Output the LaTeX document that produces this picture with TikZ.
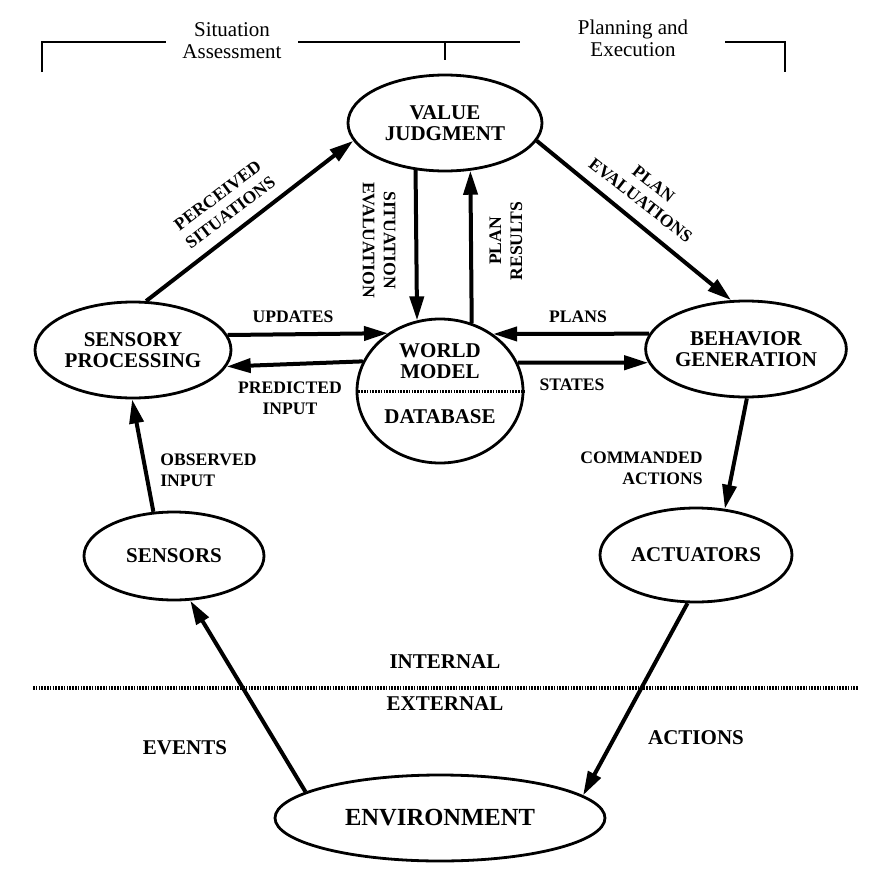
\documentclass[tikz,border=0pt]{standalone}
\usepackage{fontspec}
\setmainfont{Liberation Serif}
\usetikzlibrary{arrows.meta,shapes.geometric}

\begin{document}
\begin{tikzpicture}[x=0.5pt,y=-0.5pt,>={Triangle[length=12pt,width=7pt]},
  unit/.style={draw,ellipse,line width=1.4pt,inner sep=0pt,align=center,
    font=\fontsize{10.5}{10.5}\selectfont\bfseries},
  lbl/.style={inner sep=0pt,align=center,font=\fontsize{8.8}{10.5}\selectfont\bfseries},
  biglbl/.style={inner sep=0pt,font=\fontsize{10.5}{12}\selectfont\bfseries},
  side/.style={inner sep=0pt,align=center,font=\fontsize{10.5}{11}\selectfont},
  flow/.style={->,line width=2pt},
  hatch/.style={line width=2pt,dash pattern=on 0.8pt off 0.6pt}]
  \useasboundingbox (0,0) rectangle (889,878);

  \draw[line width=0.8pt] (42,72) -- (42,42) -- (166,42);
  \draw[line width=0.8pt] (298,42) -- (520,42);
  \draw[line width=0.8pt] (445,42) -- (445,60);
  \draw[line width=0.8pt] (725,42) -- (785,42) -- (785,72);
  \node[side] (sa) at (232,41) {Situation\\Assessment};
  \node[side] (pe) at (633,38) {Planning and\\Execution};

  \node[unit,minimum width=97pt,minimum height=48pt] (vj) at (445,123) {VALUE\\JUDGMENT};
  \node[unit,minimum width=98pt,minimum height=48pt] (sp) at (133,350) {SENSORY\\PROCESSING};
  \node[unit,minimum width=83pt,minimum height=72pt] (wm) at (440,391) {};
  \node[unit,minimum width=97pt,minimum height=48pt] (bg) at (746,349) {BEHAVIOR\\GENERATION};
  \node[unit,minimum width=90pt,minimum height=44pt] (se) at (174,556) {SENSORS};
  \node[unit,minimum width=96pt,minimum height=47pt] (ac) at (696,555) {ACTUATORS};
  \node[unit,minimum width=165pt,minimum height=43pt,
    font=\fontsize{12.3}{14}\selectfont\bfseries] (en) at (440,818) {ENVIRONMENT};

  \node[unit,draw=none] (wmname) at (440,361) {WORLD\\MODEL};
  \node[unit,draw=none] (wmdb) at (440,417) {DATABASE};
  \draw[hatch,line width=1.5pt] (wm.west) -- (wm.east);
  \draw[hatch] (33,688) -- (858,688);

  \draw[flow] (sp.75) -- (vj.191.5);
  \draw[flow] (vj.238.6) -- (wm.108.4);
  \draw[flow] (wm.65.9) -- (vj.298.3);
  \draw[flow] (vj.349.5) -- (bg.107);
  \draw[flow] (sp.9.2) -- (wm.132.9);
  \draw[flow] (wm.159.9) -- (sp.350.2);
  \draw[flow] (bg.171.4) -- (wm.47.1);
  \draw[flow] (wm.20.1) -- (bg.188.6);
  \draw[flow] (bg.271) -- (ac.58);
  \draw[flow] (se.115.5) -- (sp.269);
  \draw[flow] (en.169.5) -- (se.290);
  \draw[flow] (ac.260) -- (en.9);

  \node[lbl] (updl) at (293,317) {UPDATES};
  \node[lbl] (predl) at (290,398) {PREDICTED\\INPUT};
  \node[lbl] (plansl) at (578,317) {PLANS};
  \node[lbl] (statesl) at (572,385) {STATES};
  \node[lbl,align=right,anchor=east] (cmdl) at (703,468) {COMMANDED\\ACTIONS};
  \node[lbl,align=left,anchor=west] (obsl) at (160,470) {OBSERVED\\INPUT};
  \node[lbl,rotate=37] (percl) at (224,204) {PERCEIVED\\SITUATIONS};
  \node[lbl,rotate=-38] (planevl) at (647,192) {PLAN\\EVALUATIONS};
  \node[lbl,rotate=-90] (sitevl) at (379,240) {SITUATION\\EVALUATION};
  \node[lbl,rotate=90] (planresl) at (506,241) {PLAN\\RESULTS};
  \node[biglbl] (intl) at (445,662) {INTERNAL};
  \node[biglbl] (extl) at (445,704) {EXTERNAL};
  \node[biglbl] (evl) at (185,748) {EVENTS};
  \node[biglbl] (actl) at (696,738) {ACTIONS};
\end{tikzpicture}
\end{document}
